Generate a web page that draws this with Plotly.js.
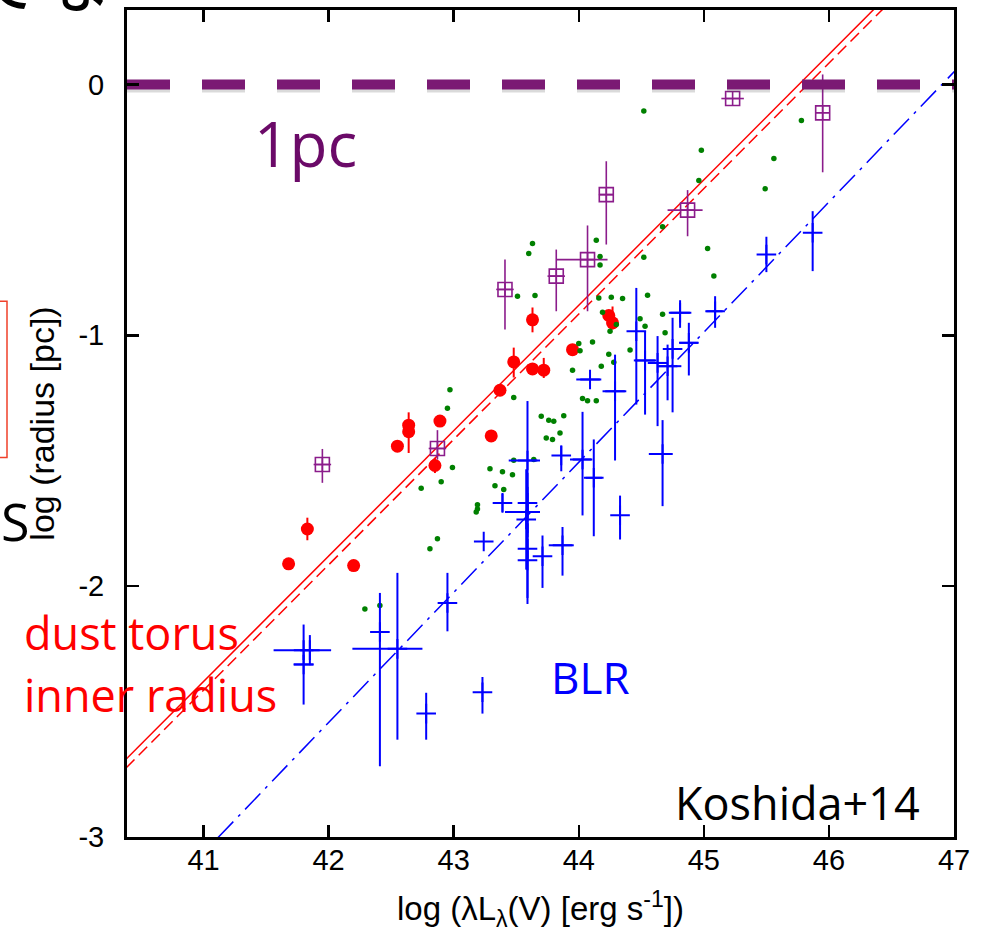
<!DOCTYPE html>
<html>
<head>
<meta charset="utf-8">
<script src="https://cdn.plot.ly/plotly-3.0.1.min.js"></script>
<style>
  html, body { margin: 0; padding: 0; background: #fff; }
  #chart { width: 985px; height: 938px; }
</style>
</head>
<body>
<div id="chart"></div>
<script>
// Dust torus inner radius (reverberation, Koshida+14): log L_V vs log R
const torusL = [41.68, 41.83, 42.20, 42.55, 42.64, 42.64, 42.89, 42.85, 43.30, 43.37, 43.48, 43.63, 43.63, 43.72, 43.95, 44.24, 44.27];
const torusR = [-1.911, -1.772, -1.918, -1.442, -1.358, -1.384, -1.342, -1.519, -1.401, -1.219, -1.106, -1.134, -0.938, -1.139, -1.057, -0.921, -0.950];
const torusRUp = [0, 0.045, 0, 0, 0.051, 0, 0, 0.03, 0, 0, 0.057, 0, 0.049, 0.049, 0, 0, 0.065];
const torusRDown = [0, 0.045, 0, 0, 0, 0.085, 0, 0.03, 0, 0, 0.062, 0, 0.05, 0.031, 0, 0, 0.027];

// Interferometric torus sizes (open squares)
const interfL = [41.95, 42.87, 43.41, 43.82, 44.07, 44.22, 44.87, 45.23, 45.95];
const interfR = [-1.515, -1.451, -0.817, -0.764, -0.698, -0.439, -0.501, -0.056, -0.113];
const interfRUp = [0.062, 0.073, 0.119, 0.106, 0.136, 0.133, 0.08, 0, 0.153];
const interfRDown = [0.073, 0.044, 0.160, 0.140, 0.206, 0.199, 0.104, 0, 0.237];
const interfLMinus = [0.07, 0.07, 0.07, 0.07, 0.25, 0.06, 0.16, 0.09, 0];
const interfLPlus = [0.07, 0.07, 0.07, 0.07, 0.16, 0.06, 0.12, 0.09, 0];

// Dust emission radii from other samples (small dots)
const dotL = [43.63, 43.60, 43.51, 43.65, 44.52, 44.98, 44.96, 45.56, 45.78, 45.49,
              44.67, 45.03, 45.08, 44.14, 44.17, 44.17, 44.52, 44.16, 44.26, 44.35,
              44.55, 44.19, 44.30, 44.49, 44.53, 44.67, 44.69, 44.25, 44.00, 44.01,
              44.11, 44.24, 44.28, 44.41, 44.18, 43.95, 44.03, 44.07, 44.14, 43.70,
              43.76, 43.80, 43.88, 43.85, 43.74, 43.79, 43.64, 42.97, 42.95, 43.48,
              42.99, 42.90, 42.74, 43.29, 43.39, 43.47, 43.33, 43.40, 43.48, 43.19,
              43.19, 43.18, 42.87, 42.81, 42.29, 42.41];
const dotR = [-0.634, -0.674, -0.844, -0.841, -0.106, -0.262, -0.383, -0.295, -0.144, -0.416,
              -0.567, -0.654, -0.763, -0.621, -0.686, -0.720, -0.689, -0.851, -0.848, -0.853,
              -0.840, -0.908, -0.957, -0.934, -0.964, -0.916, -0.990, -0.984, -1.033, -1.061,
              -1.027, -1.075, -1.107, -1.058, -1.123, -1.139, -1.252, -1.261, -1.261, -1.323,
              -1.339, -1.343, -1.321, -1.389, -1.409, -1.415, -1.495, -1.217, -1.291, -1.248,
              -1.527, -1.584, -1.610, -1.532, -1.544, -1.556, -1.600, -1.615, -1.498, -1.675,
              -1.692, -1.704, -1.811, -1.851, -2.091, -2.077];

// Broad line region radii (H-beta lags)
const blrL = [41.80, 41.85, 41.80, 42.41, 42.55, 42.78, 42.95, 43.23, 43.24, 43.39,
              43.59, 43.59, 43.59, 43.58, 43.59, 43.59, 43.71, 43.86, 43.87, 44.03,
              44.09, 44.12, 44.29, 44.33, 44.46, 44.53, 44.63, 44.67, 44.71, 44.75,
              44.81, 44.88, 45.09, 45.50, 45.87];
const blrR = [-2.255, -2.255, -2.312, -2.183, -2.250, -2.508, -2.067, -2.423, -1.822, -1.668,
              -1.499, -1.668, -1.704, -1.734, -1.851, -1.897, -1.881, -1.479, -1.837, -1.495,
              -1.176, -1.568, -1.223, -1.717, -0.984, -1.100, -1.110, -1.473, -1.123, -1.054,
              -0.910, -1.030, -0.904, -0.678, -0.591];
const blrRUp = [0.102, 0.06, 0, 0.156, 0.303, 0.083, 0.12, 0.061, 0, 0.036,
                0.237, 0.12, 0.1, 0.2, 0.1, 0.15, 0.083, 0.04, 0.073, 0.19,
                0, 0.153, 0.146, 0.078, 0.173, 0.116, 0.107, 0.135, 0.086, 0.124,
                0.05, 0.08, 0.06, 0.071, 0.086];
const blrRDown = [0.217, 0.06, 0, 0.535, 0.362, 0.104, 0.113, 0.085, 0, 0.036,
                  0.23, 0.12, 0.1, 0.2, 0.22, 0.15, 0.126, 0.063, 0.121, 0.223,
                  0, 0.233, 0.276, 0.097, 0.292, 0.216, 0.252, 0.208, 0.136, 0.253,
                  0.06, 0.13, 0.066, 0.07, 0.153];
const blrLMinus = [0.24, 0, 0.08, 0, 0.36, 0, 0, 0, 0, 0,
                   0.15, 0, 0.18, 0, 0, 0, 0, 0, 0.11, 0.10,
                   0.11, 0.065, 0.10, 0, 0, 0.09, 0.06, 0.11, 0.07, 0,
                   0.09, 0.075, 0.07, 0, 0];
const blrLPlus = [0.22, 0, 0.08, 0, 0.20, 0, 0, 0, 0, 0,
                  0.10, 0, 0.10, 0, 0, 0, 0, 0, 0.09, 0.07,
                  0.09, 0.065, 0.09, 0, 0, 0.09, 0.07, 0.08, 0.11, 0,
                  0.09, 0.075, 0.06, 0, 0];

// Fitted R-L relations (end points)
const torusFitL = [40.38, 46.6];
const torusFitR = [-2.69, 0.42];
const torusFit2L = [40.38, 46.7];
const torusFit2R = [-2.725, 0.435];
const blrFitL = [40.9, 47.05];
const blrFitR = [-3.114, 0.076];

// 1 pc reference level
const onePcL = [40.388, 47.05];
const onePcR = [0, 0];

// Axis ticks
const xTickVals = [41, 42, 43, 44, 45, 46, 47];
const xTickText = ['41', '42', '43', '44', '45', '46', '47'];
const yTickVals = [0, -1, -2, -3];
const yTickText = ['0', '-1', '-2', '-3'];

const RED = '#FF0000', BLUE = '#0000FF', GREEN = '#008000', PURPLE = '#8B1C8B';
const AXIS_FONT = 'Liberation Sans, Arial, sans-serif';
const LABEL_FONT = 'Open Sans, Noto Sans, sans-serif';

const traces = [
  { x: torusFitL, y: torusFitR, mode: 'lines', line: { color: RED, width: 1.5 }, hoverinfo: 'skip' },
  { x: torusFit2L, y: torusFit2R, mode: 'lines', line: { color: RED, width: 1.5, dash: '12px,6px' }, hoverinfo: 'skip' },
  { x: blrFitL, y: blrFitR, mode: 'lines', line: { color: BLUE, width: 1.5, dash: '22px,7px,3px,7px' }, hoverinfo: 'skip' },
  {
    x: torusL, y: torusR, mode: 'markers', name: 'torus',
    marker: { symbol: 'circle', size: 13, color: RED },
    error_y: { type: 'data', symmetric: false, array: torusRUp, arrayminus: torusRDown, color: RED, thickness: 2, width: 0 }
  },
  {
    x: interfL, y: interfR, mode: 'markers', name: 'interferometry',
    marker: { symbol: 'square-cross-open', size: 14, color: PURPLE, line: { width: 1.6, color: PURPLE } },
    error_y: { type: 'data', symmetric: false, array: interfRUp, arrayminus: interfRDown, color: PURPLE, thickness: 1.6, width: 0 },
    error_x: { type: 'data', symmetric: false, array: interfLPlus, arrayminus: interfLMinus, color: PURPLE, thickness: 1.6, width: 0 }
  },
  {
    x: dotL, y: dotR, mode: 'markers', name: 'dust',
    marker: { symbol: 'circle', size: 5.5, color: GREEN }
  },
  {
    x: blrL, y: blrR, mode: 'markers', name: 'BLR',
    marker: { symbol: 'cross-thin', size: 14, color: BLUE, line: { width: 2, color: BLUE } },
    error_y: { type: 'data', symmetric: false, array: blrRUp, arrayminus: blrRDown, color: BLUE, thickness: 2, width: 0 },
    error_x: { type: 'data', symmetric: false, array: blrLPlus, arrayminus: blrLMinus, color: BLUE, thickness: 2, width: 0 }
  },
  // soft shadow under the 1 pc line
  { x: onePcL, y: onePcR.map(v => v - 0.014), mode: 'lines', line: { color: 'rgba(70,70,70,0.2)', width: 9, dash: '43px,32px' }, hoverinfo: 'skip' },
  { x: onePcL, y: onePcR, mode: 'lines', line: { color: '#7B1A74', width: 10, dash: '43px,32px' }, hoverinfo: 'skip' }
];

const axisCommon = {
  ticks: 'inside', ticklen: 12, tickwidth: 2.5, tickcolor: '#000',
  showline: true, linewidth: 3, linecolor: '#000', mirror: 'ticks',
  showgrid: false, zeroline: false,
  tickfont: { family: AXIS_FONT, size: 29, color: '#000' }
};

const layout = {
  width: 985, height: 938,
  margin: { l: 127, r: 31, t: 10, b: 101 },
  paper_bgcolor: '#fff', plot_bgcolor: '#fff',
  showlegend: false,
  xaxis: Object.assign({}, axisCommon, {
    range: [40.388, 47.0],
    tickmode: 'array', tickvals: xTickVals, ticktext: xTickText,
    ticklabelstandoff: -5,
    title: { text: 'log (λL<sub>λ</sub>(V) [erg s<sup>-1</sup>])', font: { family: AXIS_FONT, size: 33, color: '#000' }, standoff: 23 }
  }),
  yaxis: Object.assign({}, axisCommon, {
    range: [-3, 0.297],
    tickmode: 'array', tickvals: yTickVals, ticktext: yTickText,
    ticklabelstandoff: 14,
    title: { text: 'log (radius [pc])', font: { family: AXIS_FONT, size: 34, color: '#000' }, standoff: 14 }
  }),
  annotations: [
    { xref: 'paper', yref: 'paper', x: 0.2164, y: 0.8397, xanchor: 'center', yanchor: 'middle', showarrow: false,
      text: '1pc', font: { family: LABEL_FONT, size: 62, color: '#6B0A68' } },
    { xref: 'paper', yref: 'paper', x: -0.1270, y: 0.2474, xanchor: 'left', yanchor: 'middle', showarrow: false,
      text: 'dust torus', font: { family: LABEL_FONT, size: 45, color: RED } },
    { xref: 'paper', yref: 'paper', x: -0.1270, y: 0.1718, xanchor: 'left', yanchor: 'middle', showarrow: false,
      text: 'inner radius', font: { family: LABEL_FONT, size: 45, color: RED } },
    { xref: 'paper', yref: 'paper', x: 0.5605, y: 0.1934, xanchor: 'center', yanchor: 'middle', showarrow: false,
      text: 'BLR', font: { family: LABEL_FONT, size: 44, color: BLUE } },
    { xref: 'paper', yref: 'paper', x: 0.8102, y: 0.0420, xanchor: 'center', yanchor: 'middle', showarrow: false,
      text: 'Koshida+14', font: { family: LABEL_FONT, size: 45, color: '#000' } },
    { xref: 'paper', yref: 'paper', x: -0.105, y: 0.9765, xanchor: 'center', yanchor: 'bottom', showarrow: false,
      text: 'てな', font: { family: 'Noto Sans CJK JP, sans-serif', size: 70, color: '#000' } },
    { xref: 'paper', yref: 'paper', x: -0.1345, y: 0.3823, xanchor: 'center', yanchor: 'middle', showarrow: false,
      text: 'S', font: { family: LABEL_FONT, size: 52, color: '#000' } }
  ],
  shapes: [
    { type: 'rect', xref: 'paper', yref: 'paper', x0: -0.30, x1: -0.1451, y0: 0.4588, y1: 0.6477,
      line: { color: '#F0402A', width: 1.5 }, fillcolor: 'rgba(0,0,0,0)' }
  ]
};

Plotly.newPlot('chart', traces, layout, { staticPlot: true, displayModeBar: false });
</script>
</body>
</html>
